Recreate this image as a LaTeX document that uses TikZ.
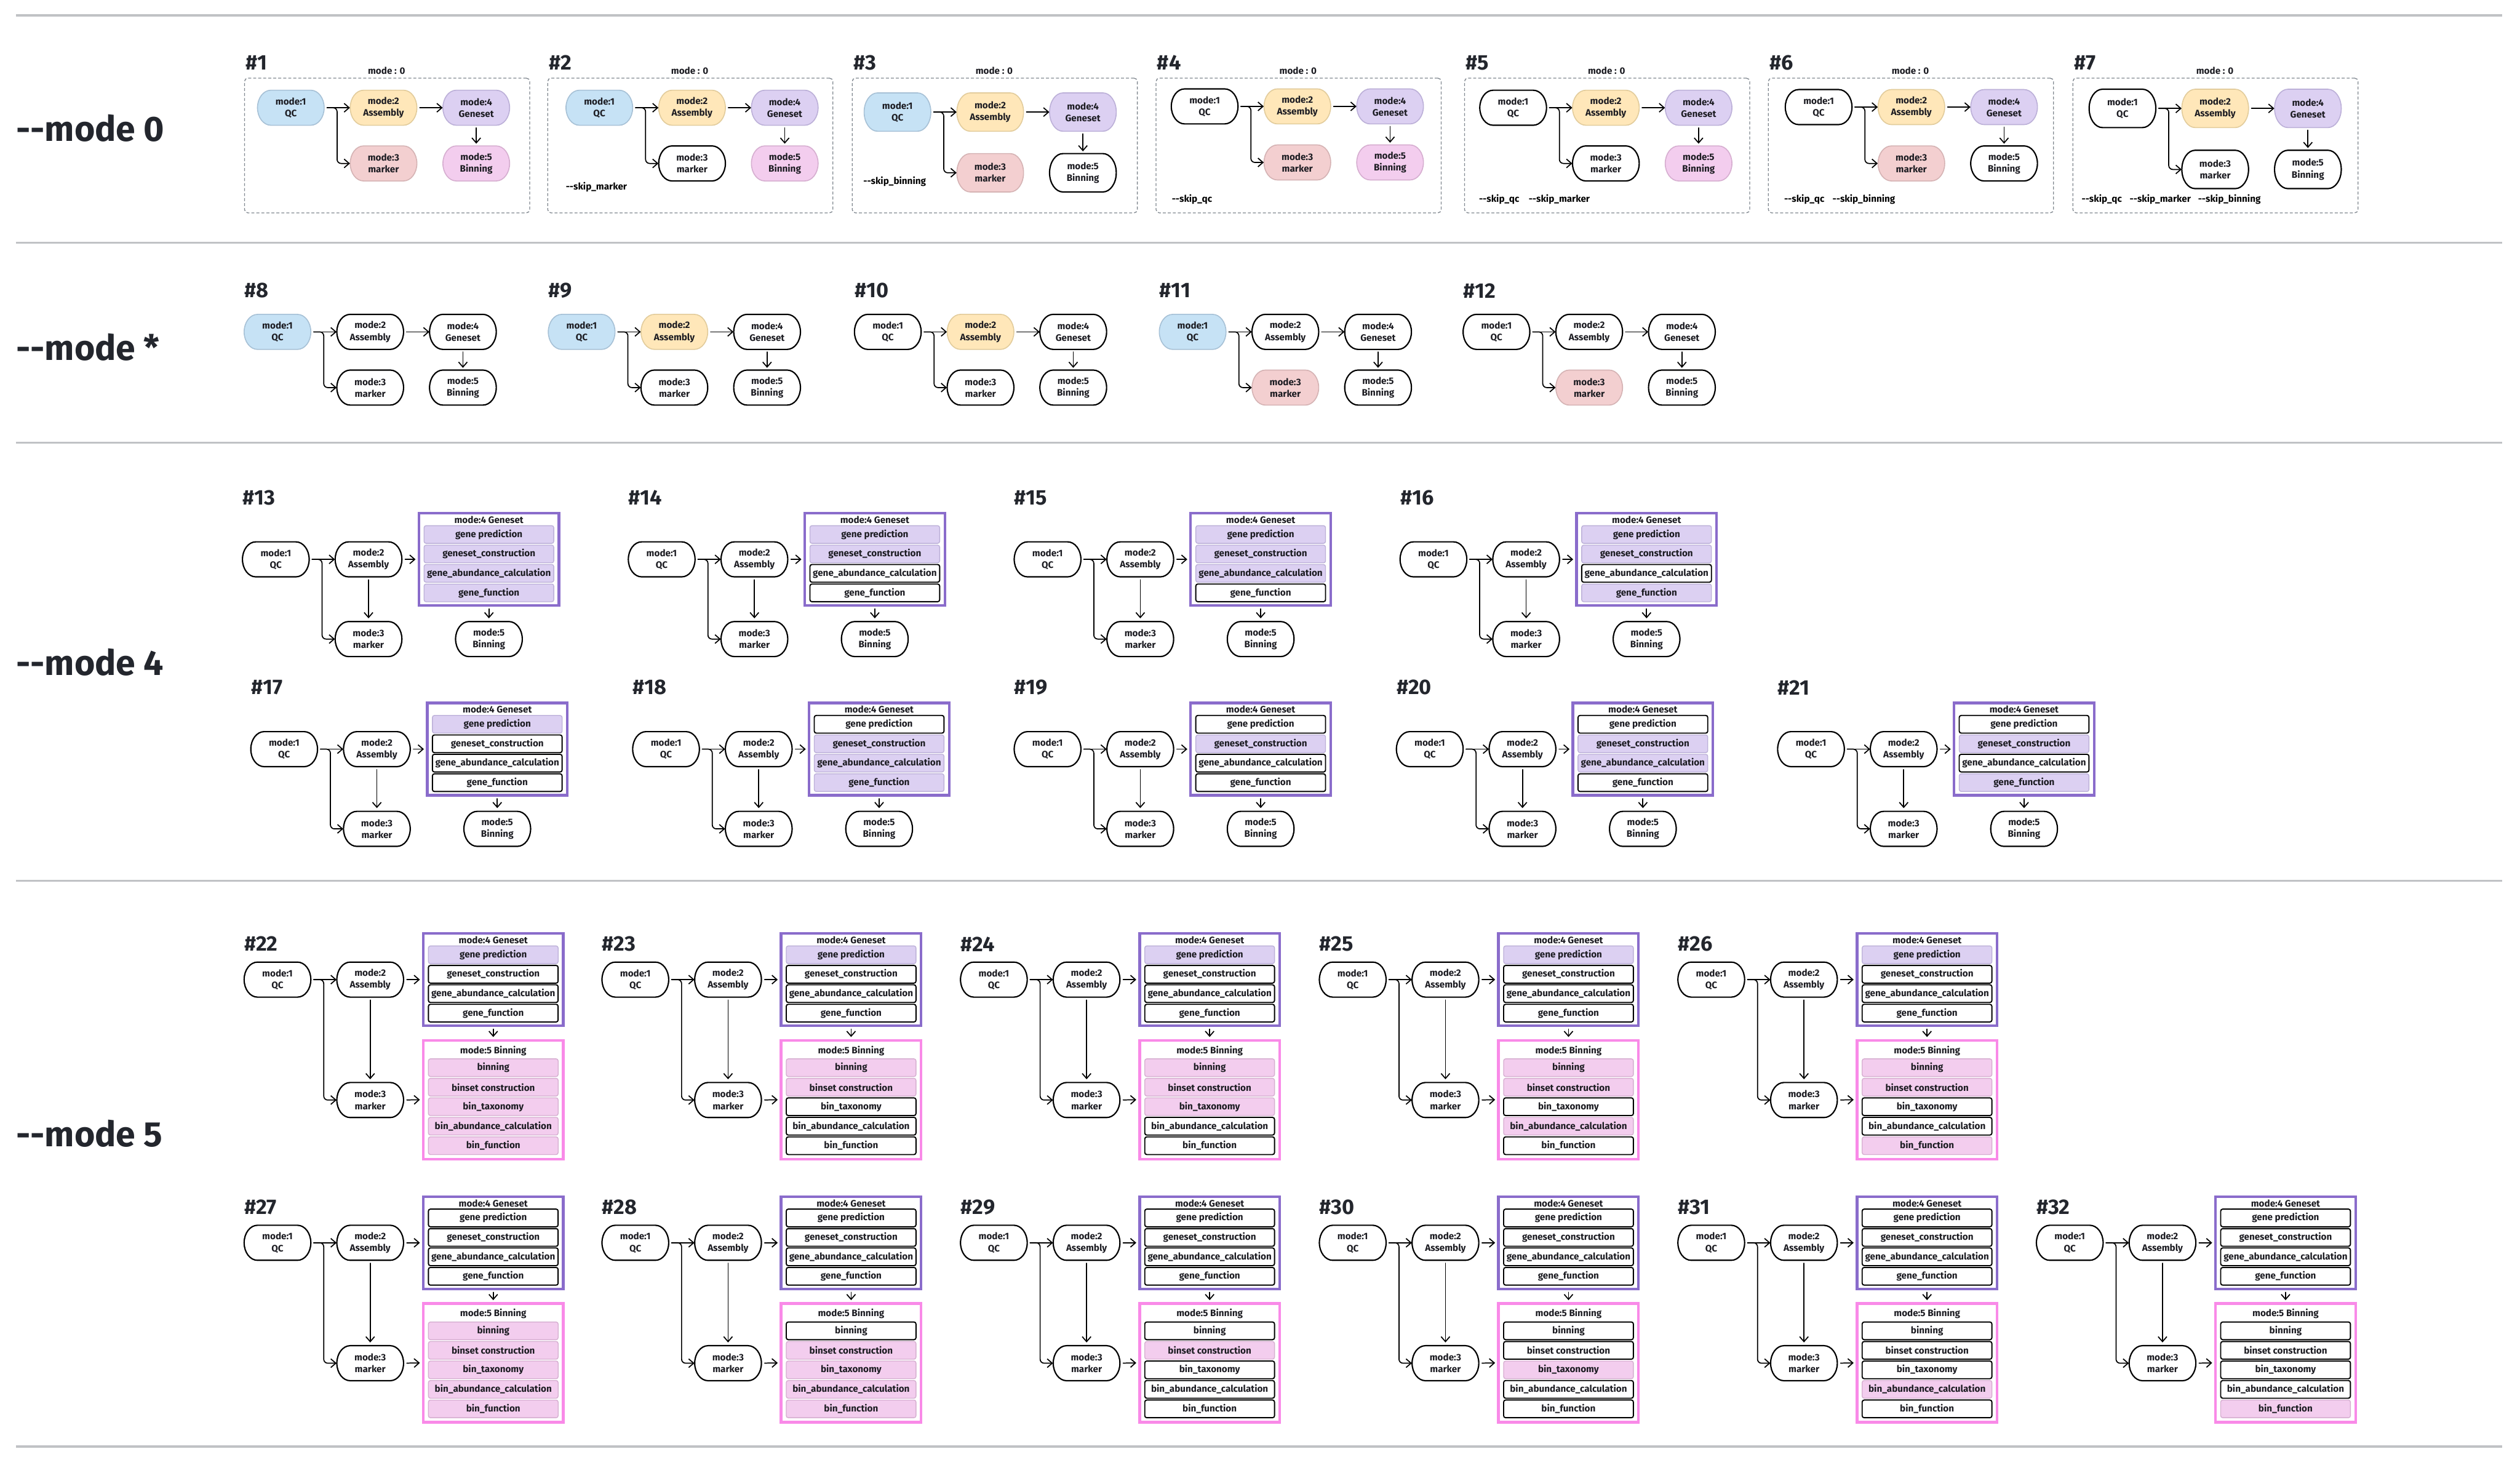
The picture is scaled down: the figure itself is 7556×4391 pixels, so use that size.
\documentclass[tikz,border=0pt]{standalone}
\usepackage{fontspec}
\setmainfont{Fira Sans}
\usetikzlibrary{arrows.meta}

\definecolor{txt}{HTML}{1C1C22}
\definecolor{hdrc}{HTML}{23262D}
\definecolor{cQf}{HTML}{C6E2F5}
\definecolor{cQd}{HTML}{A7C1D6}
\definecolor{cAf}{HTML}{FFE7B9}
\definecolor{cAd}{HTML}{E2CC9C}
\definecolor{cGf}{HTML}{DCD0F2}
\definecolor{cGd}{HTML}{BCB0D8}
\definecolor{cMf}{HTML}{F3CFD0}
\definecolor{cMd}{HTML}{D5B3B4}
\definecolor{cBf}{HTML}{F3CDEE}
\definecolor{cBd}{HTML}{D6AED0}
\definecolor{cGbox}{HTML}{8A6CCB}
\definecolor{cBbox}{HTML}{F98AE8}
\definecolor{dashc}{HTML}{80878F}
\definecolor{sepc}{HTML}{C0C2C5}

\newcommand{\pillfont}{\fontsize{8}{10}\selectfont\bfseries}
\newcommand{\hdrfont}{\fontsize{18}{20}\selectfont\bfseries}
\newcommand{\bigfont}{\fontsize{30}{34}\selectfont\bfseries}

\tikzset{
  arr/.style={line width=0.32mm, -{Straight Barb[length=1.5mm,width=2.6mm,line width=0.32mm]}, line cap=round, line join=round},
  pilltext/.style={align=center, inner sep=0pt, minimum width=20mm, font=\pillfont, text=txt},
  pb/.style={fill=cQf, draw=cQd, line width=0.3mm},
  py/.style={fill=cAf, draw=cAd, line width=0.3mm},
  pp/.style={fill=cGf, draw=cGd, line width=0.3mm},
  pr/.style={fill=cMf, draw=cMd, line width=0.3mm},
  pk/.style={fill=cBf, draw=cBd, line width=0.3mm},
  pw/.style={fill=white, draw=black, line width=0.4mm},
  sub/.style={minimum width=38.9mm, minimum height=5.3mm, inner sep=0pt, rounded corners=0.6mm, font=\pillfont, text=txt},
  gs1/.style={fill=cGf, draw=cGd, line width=0.25mm},
  gs0/.style={fill=white, draw=black, line width=0.35mm},
  bs1/.style={fill=cBf, draw=cBd, line width=0.25mm},
  bs0/.style={fill=white, draw=black, line width=0.35mm},
  gbox/.style={draw=cGbox, fill=white, line width=0.8mm, minimum width=42mm, minimum height=27.7mm, inner sep=0pt},
  bbox/.style={draw=cBbox, fill=white, line width=0.8mm, minimum width=42mm, minimum height=35.6mm, inner sep=0pt},
  ttl/.style={font=\pillfont, text=txt, inner sep=0pt},
  hdr/.style={font=\hdrfont, text=hdrc, anchor=west, inner sep=0pt},
  big/.style={font=\bigfont, text=hdrc, anchor=west, inner sep=0pt},
  skip/.style={font=\pillfont, text=black, anchor=west, inner sep=0pt},
  dbox/.style={draw=dashc, dash pattern=on 0.9mm off 0.6mm, line width=0.25mm, rounded corners=1mm, minimum width=85.5mm, minimum height=40.4mm, inner sep=0pt, anchor=north west},
  sepline/.style={draw=sepc, line width=0.6mm},
}

% capsule node: name, cx, cy, style, text
\newcommand{\pill}[5]{%
  \filldraw[#4] (#2-60,#3-\ph) -- (#2+60,#3-\ph)
    .. controls (#2+82,#3-\ph) and (#2+100,#3-0.55*\ph) .. (#2+100,#3)
    .. controls (#2+100,#3+0.55*\ph) and (#2+82,#3+\ph) .. (#2+60,#3+\ph)
    -- (#2-60,#3+\ph)
    .. controls (#2-82,#3+\ph) and (#2-100,#3+0.55*\ph) .. (#2-100,#3)
    .. controls (#2-100,#3-0.55*\ph) and (#2-82,#3-\ph) .. (#2-60,#3-\ph) -- cycle;
  \node[pilltext, minimum height={0.2mm*\ph}] (#1) at (#2,#3) {#5};
}

% five-node flow (mode 0 and mode *): id, qcx, topy, boty, styles Q A G M B
\newcommand{\flowA}[9]{%
  \pill{#1q}{#2}{#3}{#5}{mode:1\\QC}
  \pill{#1a}{#2+278}{#3}{#6}{mode:2\\Assembly}
  \pill{#1g}{#2+556}{#3}{#7}{mode:4\\Geneset}
  \pill{#1m}{#2+278}{#4}{#8}{mode:3\\marker}
  \pill{#1b}{#2+556}{#4}{#9}{mode:5\\Binning}
  \draw[arr, shorten <=0.8mm] (#1q.east) -- (#1a.west);
  \draw[arr, shorten <=0.8mm, rounded corners=1.2mm] (#1q.east) -- ++(38,0) |- (#1m.west);
  \draw[arr, shorten <=0.8mm] (#1a.east) -- (#1g.west);
  \draw[arr, shorten <=0.7mm, shorten >=0.6mm] (#1g.south) -- (#1b.north);
}

\newcommand{\setg}[4]{\tikzset{ga/.style={gs#1},gb/.style={gs#2},gc/.style={gs#3},gd/.style={gs#4}}}
\newcommand{\setb}[5]{\tikzset{ba/.style={bs#1},bb/.style={bs#2},bc/.style={bs#3},bd/.style={bs#4},be/.style={bs#5}}}

\newcommand{\geneset}[3]{%
  \node[gbox] (#1G) at (#2,#3) {};
  \node[ttl] (#1Gt) at (#2,#3-118.5) {mode:4 Geneset};
  \node[sub,ga] (#1G1) at (#2,#3-74.5) {gene prediction};
  \node[sub,gb] (#1G2) at (#2,#3-16) {geneset\_construction};
  \node[sub,gc] (#1G3) at (#2,#3+42) {gene\_abundance\_calculation};
  \node[sub,gd] (#1G4) at (#2,#3+100.5) {gene\_function};
}
\newcommand{\binset}[3]{%
  \node[bbox] (#1B) at (#2,#3) {};
  \node[ttl] (#1Bt) at (#2,#3-147) {mode:5 Binning};
  \node[sub,ba] (#1B1) at (#2,#3-96) {binning};
  \node[sub,bb] (#1B2) at (#2,#3-37.5) {binset construction};
  \node[sub,bc] (#1B3) at (#2,#3+21) {bin\_taxonomy};
  \node[sub,bd] (#1B4) at (#2,#3+79.5) {bin\_abundance\_calculation};
  \node[sub,be] (#1B5) at (#2,#3+138) {bin\_function};
}

% mode 4 flow: id, qcx, qcy
\newcommand{\flowB}[3]{%
  \pill{#1q}{#2}{#3}{pw}{mode:1\\QC}
  \pill{#1a}{#2+278}{#3}{pw}{mode:2\\Assembly}
  \pill{#1m}{#2+278}{#3+239}{pw}{mode:3\\marker}
  \pill{#1b}{#2+639}{#3+239}{pw}{mode:5\\Binning}
  \geneset{#1}{#2+639}{#3}
  \draw[arr, shorten <=0.8mm] (#1q.east) -- (#1a.west);
  \draw[arr, shorten <=0.8mm, rounded corners=1.2mm] (#1q.east) -- ++(38,0) |- (#1m.west);
  \draw[arr, shorten <=0.8mm, shorten >=0.9mm] (#1a.south) -- (#1m.north);
  \draw[arr, shorten <=0.9mm, shorten >=0.6mm] (#1a.east) -- (#1G.west);
  \draw[arr, shorten <=0.6mm, shorten >=0.9mm] (#1G.south) -- (#1b.north);
}

% mode 5 flow: id, qcx, qcy
\newcommand{\flowC}[3]{%
  \pill{#1q}{#2}{#3}{pw}{mode:1\\QC}
  \pill{#1a}{#2+278}{#3}{pw}{mode:2\\Assembly}
  \pill{#1m}{#2+278}{#3+361}{pw}{mode:3\\marker}
  \geneset{#1}{#2+647}{#3}
  \binset{#1}{#2+647}{#3+360}
  \draw[arr, shorten <=0.8mm] (#1q.east) -- (#1a.west);
  \draw[arr, shorten <=0.8mm, rounded corners=1.2mm] (#1q.east) -- ++(38,0) |- (#1m.west);
  \draw[arr, shorten <=0.8mm, shorten >=0.9mm] (#1a.south) -- (#1m.north);
  \draw[arr, shorten <=0.9mm, shorten >=0.6mm] (#1a.east) -- (#1G.west);
  \draw[arr, shorten <=0.9mm, shorten >=0.6mm] (#1m.east) -- (#1B.west);
  \draw[arr, shorten <=0.6mm, shorten >=0.6mm] (#1G.south) -- (#1B.north);
}

\begin{document}
\begin{tikzpicture}[x=0.1mm,y=-0.1mm]
\useasboundingbox (0,0) rectangle (7556,4391);
\def\ph{52.5}

% separators
\coordinate (s1a) at (48,46);   \coordinate (s1b) at (7503,46);
\coordinate (s2a) at (48,728);  \coordinate (s2b) at (7503,728);
\coordinate (s3a) at (48,1327); \coordinate (s3b) at (7503,1327);
\coordinate (s4a) at (48,2641); \coordinate (s4b) at (7503,2641);
\coordinate (s5a) at (48,4337); \coordinate (s5b) at (7503,4337);
\draw[sepline] (s1a) -- (s1b);
\draw[sepline] (s2a) -- (s2b);
\draw[sepline] (s3a) -- (s3b);
\draw[sepline] (s4a) -- (s4b);
\draw[sepline] (s5a) -- (s5b);

% left labels
\node[big] (L0) at (48,385) {-{}-mode 0};
\node[big] (L1) at (48,1041) {-{}-mode *};
\node[big] (L4) at (48,1985) {-{}-mode 4};
\node[big] (L5) at (48,3398) {-{}-mode 5};

% ---------------- mode 0 ----------------
\node[dbox] (bx1) at (732,233) {};
\node[dbox] (bx2) at (1641,233) {};
\node[dbox] (bx3) at (2554,233) {};
\node[dbox] (bx4) at (3465,233) {};
\node[dbox] (bx5) at (4390,233) {};
\node[dbox] (bx6) at (5301,233) {};
\node[dbox] (bx7) at (6214,233) {};
\foreach \k/\bx in {1/732,2/1641,3/2554,4/3465,5/4390,6/5301,7/6214}{
  \node[hdr] (h\k) at (\bx+4,188) {\#\k};
  \node[ttl] (mt\k) at (\bx+427,212) {mode : 0};
}
\flowA{z1}{872}{323}{490}{pb}{py}{pp}{pr}{pk}
\flowA{z2}{1797}{323}{490}{pb}{py}{pp}{pw}{pk}
\def\ph{57.5}
\flowA{z3}{2691}{336}{518}{pb}{py}{pp}{pr}{pw}
\def\ph{52.5}
\flowA{z4}{3612}{319}{487}{pw}{py}{pp}{pr}{pk}
\flowA{z5}{4537}{323}{490}{pw}{py}{pp}{pw}{pk}
\flowA{z6}{5453}{321}{490}{pw}{py}{pp}{pr}{pw}
\def\ph{57.5}
\flowA{z7}{6364}{325}{508}{pw}{py}{pp}{pw}{pw}
\def\ph{52.5}

\node[skip] (k2a) at (1696,560) {-{}-skip\_marker};
\node[skip] (k3a) at (2588,545) {-{}-skip\_binning};
\node[skip] (k4a) at (3513,597) {-{}-skip\_qc};
\node[skip] (k5a) at (4434,597) {-{}-skip\_qc};
\node[skip] (k5b) at (4583,597) {-{}-skip\_marker};
\node[skip] (k6a) at (5349,597) {-{}-skip\_qc};
\node[skip] (k6b) at (5494,597) {-{}-skip\_binning};
\node[skip] (k7a) at (6241,597) {-{}-skip\_qc};
\node[skip] (k7b) at (6385,597) {-{}-skip\_marker};
\node[skip] (k7c) at (6590,597) {-{}-skip\_binning};

% ---------------- mode * ----------------
\foreach \k/\qx in {8/832,9/1744,10/2662,11/3576,12/4487}{
  \node[hdr] (h\k) at (\qx-100,871) {\#\k};
}
\flowA{s8}{832}{995}{1162}{pb}{pw}{pw}{pw}{pw}
\flowA{s9}{1744}{995}{1162}{pb}{py}{pw}{pw}{pw}
\flowA{s10}{2662}{995}{1162}{pw}{py}{pw}{pw}{pw}
\flowA{s11}{3576}{995}{1162}{pb}{pw}{pw}{pr}{pw}
\flowA{s12}{4487}{995}{1162}{pw}{pw}{pw}{pr}{pw}

% ---------------- mode 4 ----------------
\foreach \k/\qx in {13/827,14/1984,15/3141,16/4298}{
  \node[hdr] (h\k) at (\qx-100,1492) {\#\k};
}
\foreach \k/\qx in {17/852,18/1997,19/3141,20/4287,21/5430}{
  \node[hdr] (h\k) at (\qx-100,2061) {\#\k};
}
\setg{1}{1}{1}{1}\flowB{f13}{827}{1677}
\setg{1}{1}{0}{0}\flowB{f14}{1984}{1677}
\setg{1}{1}{1}{0}\flowB{f15}{3141}{1677}
\setg{1}{1}{0}{1}\flowB{f16}{4298}{1677}
\setg{1}{0}{0}{0}\flowB{f17}{852}{2246}
\setg{0}{1}{1}{1}\flowB{f18}{1997}{2246}
\setg{0}{1}{0}{0}\flowB{f19}{3141}{2246}
\setg{0}{1}{1}{0}\flowB{f20}{4287}{2246}
\setg{0}{1}{0}{1}\flowB{f21}{5430}{2246}

% ---------------- mode 5 ----------------
\foreach \k/\qx in {22/832,23/1905,24/2980,25/4056,26/5131}{
  \node[hdr] (h\k) at (\qx-100,2830) {\#\k};
}
\foreach \k/\qx in {27/832,28/1905,29/2980,30/4056,31/5131,32/6206}{
  \node[hdr] (h\k) at (\qx-100,3619) {\#\k};
}
\setg{1}{0}{0}{0}
\setb{1}{1}{1}{1}{1}\flowC{v22}{832}{2937}
\setb{1}{1}{0}{0}{0}\flowC{v23}{1905}{2937}
\setb{1}{1}{1}{0}{0}\flowC{v24}{2980}{2937}
\setb{1}{1}{0}{1}{0}\flowC{v25}{4056}{2937}
\setb{1}{1}{0}{0}{1}\flowC{v26}{5131}{2937}
\setg{0}{0}{0}{0}
\setb{1}{1}{1}{1}{1}\flowC{v27}{832}{3726}
\setb{0}{1}{1}{1}{1}\flowC{v28}{1905}{3726}
\setb{0}{1}{0}{0}{0}\flowC{v29}{2980}{3726}
\setb{0}{0}{1}{0}{0}\flowC{v30}{4056}{3726}
\setb{0}{0}{0}{1}{0}\flowC{v31}{5131}{3726}
\setb{0}{0}{0}{0}{1}\flowC{v32}{6206}{3726}

\end{tikzpicture}
\end{document}
